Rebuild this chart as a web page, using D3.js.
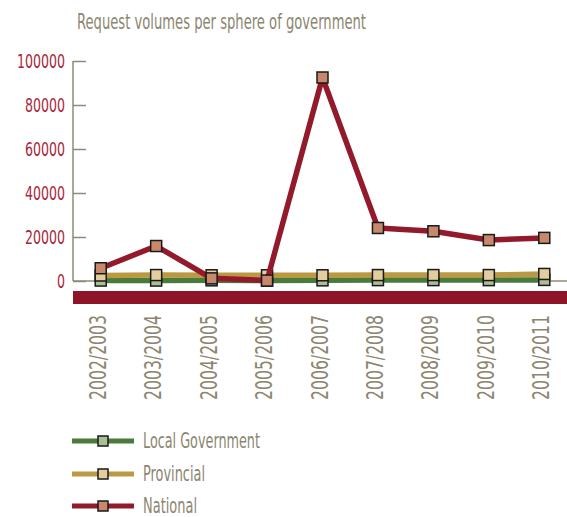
<!DOCTYPE html>
<html>
<head>
<meta charset="utf-8">
<script src="https://cdn.jsdelivr.net/npm/d3@7"></script>
<style>
  html, body { margin: 0; padding: 0; background: #ffffff; }
  svg { display: block; }
  text { font-family: "Liberation Sans Narrow", "DejaVu Sans Condensed", "Roboto Condensed", sans-serif; }
</style>
</head>
<body>
<svg id="chart" width="567" height="517"></svg>
<script>
// Financial years on the category axis
const years = ["2002/2003", "2003/2004", "2004/2005", "2005/2006", "2006/2007",
               "2007/2008", "2008/2009", "2009/2010", "2010/2011"];

// Request volumes per sphere of government
const localGovernment = [200, 200, 300, 200, 300, 400, 400, 400, 500];
const provincial      = [2500, 2700, 2600, 2600, 2600, 2700, 2700, 2700, 3200];
const national        = [5800, 15900, 1200, 200, 92500, 24100, 22600, 18600, 19600];

const yTicks = [0, 20000, 40000, 60000, 80000, 100000];

const series = [
  { name: "Local Government", values: localGovernment, line: "#4b7b3b", fill: "#aabf95" },
  { name: "Provincial",       values: provincial,      line: "#b99a43", fill: "#e3cd9e" },
  { name: "National",         values: national,        line: "#921a2b", fill: "#c8886c" }
];

const svg = d3.select("#chart");
const axisGray = "#8e8a7a";
const textGray = "#8c8670";
const tickRed = "#a8283d";

const x = d3.scalePoint().domain(years).range([73, 572]).padding(0.5);
const y = d3.scaleLinear().domain([0, 100000]).range([281, 61]);

// Title
svg.append("text")
  .attr("x", 77).attr("y", 29)
  .attr("font-size", 21)
  .attr("fill", textGray)
  .attr("textLength", 289).attr("lengthAdjust", "spacingAndGlyphs")
  .text("Request volumes per sphere of government");

// Red band under the plot
svg.append("rect")
  .attr("x", 73).attr("y", 291)
  .attr("width", 567 - 73).attr("height", 13)
  .attr("fill", "#8e1428");

// Value axis with inward ticks
const yAxis = svg.append("g")
  .attr("transform", "translate(73,0)")
  .call(d3.axisRight(y).tickValues(yTicks).tickSize(13).tickFormat(""));
yAxis.select(".domain").attr("stroke", axisGray).attr("stroke-width", 1.5).attr("d", "M0,61V281");
yAxis.selectAll(".tick line").attr("stroke", axisGray).attr("stroke-width", 1.5);

svg.append("line")
  .attr("x1", 73).attr("x2", 567)
  .attr("y1", y(0)).attr("y2", y(0))
  .attr("stroke", axisGray).attr("stroke-width", 1.5);

svg.append("g").selectAll("text")
  .data(yTicks)
  .join("text")
  .attr("x", 65)
  .attr("y", d => y(d))
  .attr("dy", "0.36em")
  .attr("text-anchor", "end")
  .attr("font-size", 19)
  .attr("fill", tickRed)
  .attr("textLength", d => String(d).length * 8)
  .attr("lengthAdjust", "spacingAndGlyphs")
  .text(d => d);

// Category labels, rotated
svg.append("g").selectAll("text")
  .data(years)
  .join("text")
  .attr("transform", d => `translate(${x(d) + 5},315) rotate(-90)`)
  .attr("text-anchor", "end")
  .attr("font-size", 23)
  .attr("fill", textGray)
  .attr("textLength", 85)
  .attr("lengthAdjust", "spacingAndGlyphs")
  .text(d => d);

// Lines and markers
const line = d3.line()
  .x((d, i) => x(years[i]))
  .y(d => y(d));

const ms = 11;
series.forEach(s => {
  const g = svg.append("g");
  g.append("path")
    .datum(s.values)
    .attr("d", line)
    .attr("fill", "none")
    .attr("stroke", s.line)
    .attr("stroke-width", 5.5)
    .attr("stroke-linejoin", "round");
  g.selectAll("rect")
    .data(s.values)
    .join("rect")
    .attr("x", (d, i) => x(years[i]) - ms / 2)
    .attr("y", d => y(d) - ms / 2)
    .attr("width", ms).attr("height", ms)
    .attr("fill", s.fill)
    .attr("stroke", "#1a1a1a")
    .attr("stroke-width", 1.5);
});

// Legend
const legendY = [441, 474, 506];
const legendW = [117, 62, 54];
series.forEach((s, i) => {
  const g = svg.append("g").attr("transform", `translate(0,${legendY[i]})`);
  g.append("line")
    .attr("x1", 72).attr("x2", 134)
    .attr("stroke", s.line).attr("stroke-width", 5);
  g.append("rect")
    .attr("x", 98).attr("y", -5)
    .attr("width", 10).attr("height", 10)
    .attr("fill", s.fill).attr("stroke", "#1a1a1a").attr("stroke-width", 1.5);
  g.append("text")
    .attr("x", 143).attr("y", 7)
    .attr("font-size", 21)
    .attr("fill", textGray)
    .attr("textLength", legendW[i]).attr("lengthAdjust", "spacingAndGlyphs")
    .text(s.name);
});
</script>
</body>
</html>
